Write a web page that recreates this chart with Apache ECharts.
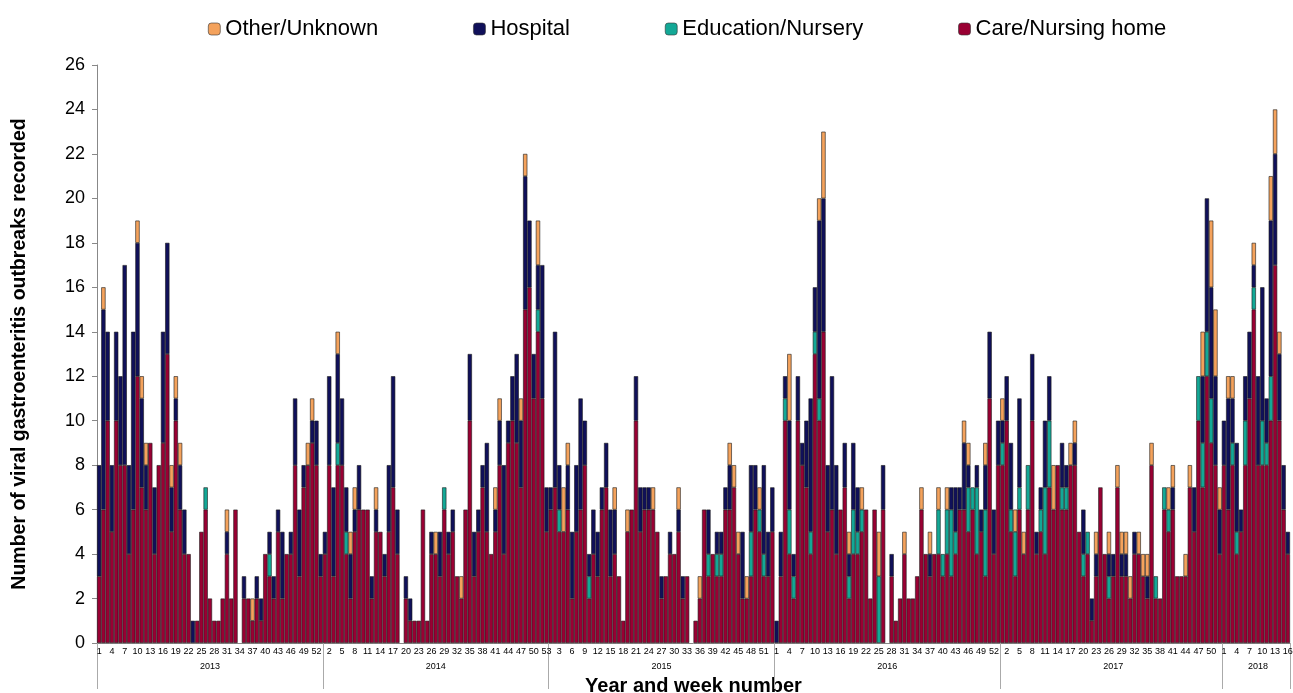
<!DOCTYPE html>
<html>
<head>
<meta charset="utf-8">
<script src="https://cdn.jsdelivr.net/npm/echarts@6/dist/echarts.min.js"></script>
<style>
  html, body { margin: 0; padding: 0; background: #fff; }
  #main { width: 1293px; height: 693px; }
</style>
</head>
<body>
<div id="main"></div>
<script>
// years shown and how many weeks each one has in the chart
var years = ['2013', '2014', '2015', '2016', '2017', '2018'];
var weeksPerYear = [53, 53, 53, 53, 52, 16];

// outbreaks per week, one row of values per year
var care = [
  3,6,10,5,10,8,8,4,6,12, 7,6,9,4,8,9,13,5,10,6, 4,4,0,1,5,6,2,1,1,2, 4,2,6,0,2,2,1,2,1,4, 3,2,5,2,4,4,8,3,7,8, 9,8,3,
  4,8,3,8,8,4,2,5,6,6, 6,2,5,5,3,5,7,4,0,2, 1,1,1,6,1,4,4,3,6,4, 5,3,2,6,10,3,5,7,5,4, 5,8,4,9,10,9,7,15,16,11, 14,11,5,
  6,7,5,5,6,2,5,6,8,2, 4,3,6,7,3,4,3,1,5,6, 10,5,6,6,6,5,2,3,4,4, 5,2,3,0,1,2,6,3,4,3, 3,6,6,7,4,2,2,3,6,5, 3,3,5,
  0,3,10,4,2,10,8,7,4,13, 10,14,5,6,4,6,7,2,4,4, 5,6,2,6,0,6,0,3,1,2, 4,2,2,3,6,4,3,4,4,3, 4,3,4,6,6,5,6,4,5,3, 11,4,8,
  8,10,5,3,6,4,6,10,4,5, 4,7,6,8,6,6,8,8,5,3, 4,1,3,7,4,2,3,7,3,3, 2,4,4,3,2,8,2,2,6,5, 6,3,3,3,7,5,10,7,12,9, 8,4,
  8,6,8,4,5,8,11,15,8,8, 8,10,17,10,6,4
];
var education = [
  0,0,0,0,0,0,0,0,0,0, 0,0,0,0,0,0,0,0,0,0, 0,0,0,0,0,1,0,0,0,0, 0,0,0,0,0,0,0,0,0,0, 1,0,0,0,0,0,0,0,0,0, 0,0,0,
  0,0,0,1,0,1,0,0,0,0, 0,0,0,0,0,0,0,0,0,0, 0,0,0,0,0,0,0,0,1,0, 0,0,0,0,0,0,0,0,0,0, 0,0,0,0,0,0,0,0,0,0, 1,0,0,
  0,0,1,0,0,0,0,0,0,1, 0,0,0,0,0,0,0,0,0,0, 0,0,0,0,0,0,0,0,0,0, 0,0,0,0,0,0,0,1,0,1, 1,0,0,0,0,0,0,2,0,1, 1,0,0,
  0,0,1,2,1,0,0,0,1,1, 1,0,0,0,0,0,0,1,2,1, 1,0,0,0,3,0,0,0,0,0, 0,0,0,0,0,0,0,0,2,1, 2,3,1,0,0,2,1,3,0,3, 0,0,0,
  1,0,1,2,1,0,2,0,0,1, 3,3,0,0,1,1,0,0,0,1, 1,0,0,0,0,1,0,0,0,0, 0,0,0,0,0,0,1,0,1,1, 0,0,0,0,0,0,2,2,2,2, 0,0,
  0,0,1,1,0,2,0,1,0,2, 1,2,0,0,0,0
];
var hospital = [
  5,9,4,3,4,4,9,4,8,6, 4,2,0,3,0,5,5,2,1,2, 2,0,1,0,0,0,0,0,0,0, 1,0,0,0,1,0,0,1,1,0, 1,1,1,3,0,1,3,3,1,0, 1,2,1,
  1,4,4,4,3,2,2,1,2,0, 0,1,1,0,1,3,5,2,0,1, 1,0,0,0,0,1,0,2,0,1, 1,0,0,0,3,2,1,1,4,0, 1,2,4,1,2,4,3,6,3,2, 2,6,2,
  1,7,2,0,2,3,3,5,2,1, 2,2,1,2,3,2,0,0,0,0, 2,2,1,1,0,0,1,0,1,0, 1,1,0,0,0,0,0,2,0,1, 1,1,2,0,0,3,0,3,2,0, 4,2,2,
  1,2,1,4,1,2,1,3,6,2, 8,6,3,6,4,0,2,1,3,2, 0,0,0,0,0,2,0,1,0,0, 0,0,0,0,0,0,1,0,0,0, 0,1,2,1,3,1,0,1,1,2, 3,2,2,
  1,2,3,0,4,0,0,3,1,1, 3,2,0,0,2,1,0,1,0,2, 0,1,1,0,0,1,1,0,1,1, 0,1,0,0,1,0,0,0,0,0, 1,0,0,0,0,2,0,3,6,5, 4,2,
  2,5,2,4,1,2,3,1,4,6, 2,7,5,3,2,1
];
var other = [
  0,1,0,0,0,0,0,0,0,1, 1,1,0,0,0,0,0,1,1,1, 0,0,0,0,0,0,0,0,0,0, 1,0,0,0,0,0,1,0,0,0, 0,0,0,0,0,0,0,0,0,1, 1,0,0,
  0,0,0,1,0,0,1,1,0,0, 0,0,1,0,0,0,0,0,0,0, 0,0,0,0,0,0,1,0,0,0, 0,0,1,0,0,0,0,0,0,0, 1,1,0,0,0,0,1,1,0,0, 2,0,0,
  0,0,0,2,1,0,0,0,0,0, 0,0,0,0,0,1,0,0,1,0, 0,0,0,0,1,0,0,0,0,0, 1,0,0,0,0,1,0,0,0,0, 0,0,1,1,1,0,1,0,0,1, 0,0,0,
  0,0,0,3,0,0,0,0,0,0, 1,3,0,0,0,0,0,1,0,0, 1,0,0,0,2,0,0,0,0,0, 1,0,0,0,1,0,1,0,1,0, 1,0,0,0,1,1,0,0,0,1, 0,0,0,
  1,0,0,1,0,1,0,0,0,0, 0,0,2,0,0,0,1,1,0,0, 0,0,1,0,0,1,0,1,1,1, 1,0,1,1,1,1,0,0,0,1, 1,0,0,1,1,0,0,2,0,3, 3,1,
  0,1,1,0,0,0,0,1,0,0, 0,2,2,1,0,0
];

// categories "year-week", and where each year starts
var categories = [];
var yearStart = {};
var yearMiddle = {};
years.forEach(function (y, i) {
  yearStart[categories.length] = true;
  yearMiddle[categories.length + Math.floor(weeksPerYear[i] / 2)] = true;
  for (var w = 1; w <= weeksPerYear[i]; w++) {
    categories.push(y + '-' + w);
  }
});

function noZero(arr) {
  return arr.map(function (v) { return v === 0 ? '-' : v; });
}

var font = '"Liberation Sans", Arial, sans-serif';

var chart = echarts.init(document.getElementById('main'), null, { renderer: 'canvas' });

var barStyle = function (color) {
  return { color: color, borderColor: '#1a1a1a', borderWidth: 0.6 };
};

var option = {
  animation: false,
  textStyle: { fontFamily: font },
  legend: {
    data: ['Other/Unknown', 'Hospital', 'Education/Nursery', 'Care/Nursing home'],
    left: 203,
    top: 13,
    itemWidth: 12,
    itemHeight: 12,
    itemGap: 95,
    textStyle: { fontSize: 22, color: '#000', fontFamily: font },
    itemStyle: { borderColor: '#333', borderWidth: 0.6 }
  },
  grid: { left: 97, right: 3, top: 65, bottom: 50, outerBoundsMode: 'none', containLabel: false },
  xAxis: [
    {
      type: 'category',
      data: categories,
      axisLine: { lineStyle: { color: '#888' } },
      axisTick: { show: false },
      axisLabel: {
        interval: function (index) { return index % 3 === 0; },
        formatter: function (v) { return v.split('-')[1]; },
        fontSize: 9,
        color: '#000',
        margin: 4
      },
      name: 'Year and week number',
      nameLocation: 'middle',
      nameGap: 33,
      nameTextStyle: { fontSize: 20, fontWeight: 'bold', color: '#000' }
    },
    {
      type: 'category',
      data: categories,
      position: 'bottom',
      axisLine: { show: false },
      axisTick: {
        show: true,
        length: 46,
        interval: function (index) { return yearStart[index] === true; },
        lineStyle: { color: '#aaa' }
      },
      axisLabel: {
        interval: function (index) { return yearMiddle[index] === true; },
        formatter: function (v) { return v.split('-')[0]; },
        fontSize: 9,
        color: '#000',
        margin: 19
      }
    }
  ],
  yAxis: {
    type: 'value',
    min: 0,
    max: 26,
    interval: 2,
    axisLine: { show: true, lineStyle: { color: '#888' } },
    axisTick: { show: true, length: 5, lineStyle: { color: '#888' } },
    axisLabel: { fontSize: 18, color: '#000', margin: 12 },
    splitLine: { show: false },
    name: 'Number of viral gastroenteritis outbreaks recorded',
    nameLocation: 'middle',
    nameGap: 67,
    nameTextStyle: { fontSize: 19.5, fontWeight: 'bold', color: '#000' }
  },
  series: [
    { name: 'Care/Nursing home', type: 'bar', stack: 'all', barCategoryGap: '0%', data: noZero(care), itemStyle: barStyle('#990033') },
    { name: 'Education/Nursery', type: 'bar', stack: 'all', barCategoryGap: '0%', data: noZero(education), itemStyle: barStyle('#13A896') },
    { name: 'Hospital', type: 'bar', stack: 'all', barCategoryGap: '0%', data: noZero(hospital), itemStyle: barStyle('#10105A') },
    { name: 'Other/Unknown', type: 'bar', stack: 'all', barCategoryGap: '0%', data: noZero(other), itemStyle: barStyle('#F4A25C') }
  ]
};

chart.setOption(option);
</script>
</body>
</html>
